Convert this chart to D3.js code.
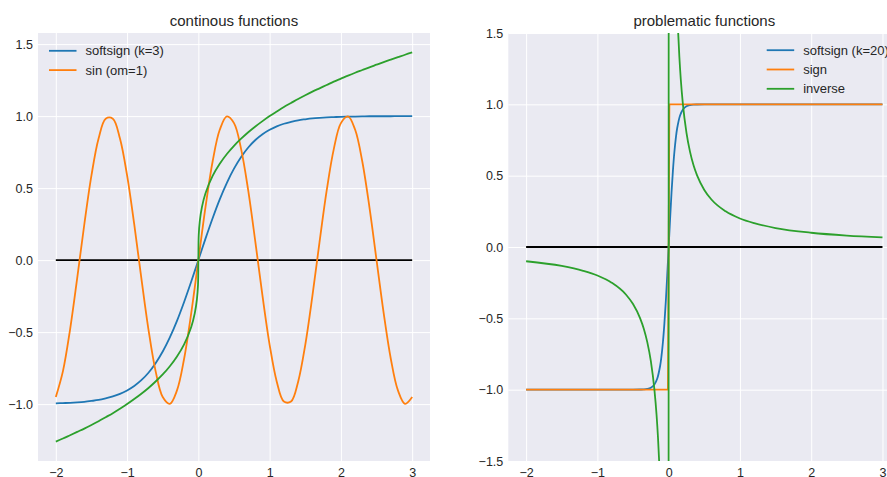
<!DOCTYPE html>
<html>
<head>
<meta charset="utf-8">
<script src="https://cdn.jsdelivr.net/npm/d3@7"></script>
<style>
  html, body { margin: 0; padding: 0; background: #ffffff; overflow: hidden; }
  svg { display: block; font-family: "Liberation Sans", Arial, sans-serif; }
</style>
</head>
<body>
<svg id="chart" width="887" height="477"></svg>
<script>
// ---- data: continuous functions (left panel) ----
const contX = [-2.0, -1.9, -1.8, -1.7, -1.6, -1.5, -1.4, -1.3, -1.2, -1.1, -1.0, -0.9, -0.8, -0.7, -0.6, -0.5, -0.4, -0.3, -0.2, -0.1,
  -0.05, -0.02, -0.005, 0, 0.005, 0.02, 0.05,
  0.1, 0.2, 0.3, 0.4, 0.5, 0.6, 0.7, 0.8, 0.9, 1.0, 1.1, 1.2, 1.3, 1.4, 1.5, 1.6, 1.7, 1.8, 1.9, 2.0,
  2.1, 2.2, 2.3, 2.4, 2.5, 2.6, 2.7, 2.8, 2.9, 3.0];
const softsign3 = [-0.995, -0.993, -0.991, -0.988, -0.984, -0.978, -0.971, -0.960, -0.947, -0.929, -0.905, -0.874, -0.834, -0.782, -0.716, -0.635, -0.537, -0.422, -0.291, -0.149,
  -0.075, -0.030, -0.0075, 0, 0.0075, 0.030, 0.075,
  0.149, 0.291, 0.422, 0.537, 0.635, 0.716, 0.782, 0.834, 0.874, 0.905, 0.929, 0.947, 0.960, 0.971, 0.978, 0.984, 0.988, 0.991, 0.993, 0.995,
  0.996, 0.997, 0.998, 0.999, 0.999, 0.999, 0.999, 1.0, 1.0, 1.0];
const sinOm1 = [-0.951, -0.771, -0.482, -0.125, 0.249, 0.588, 0.844, 0.982, 0.982, 0.844, 0.588, 0.249, -0.125, -0.482, -0.771, -0.951, -0.998, -0.905, -0.685, -0.368,
  -0.187, -0.075, -0.019, 0, 0.019, 0.075, 0.187,
  0.368, 0.685, 0.905, 0.998, 0.951, 0.771, 0.482, 0.125, -0.249, -0.588, -0.844, -0.982, -0.982, -0.844, -0.588, -0.249, 0.125, 0.482, 0.771, 0.951,
  0.998, 0.905, 0.685, 0.368, 0.0, -0.368, -0.685, -0.905, -0.998, -0.951];
const cubeRoot = [-1.260, -1.239, -1.216, -1.193, -1.170, -1.145, -1.119, -1.091, -1.063, -1.032, -1.0, -0.965, -0.928, -0.888, -0.843, -0.794, -0.737, -0.669, -0.585, -0.464,
  -0.368, -0.271, -0.171, 0, 0.171, 0.271, 0.368,
  0.464, 0.585, 0.669, 0.737, 0.794, 0.843, 0.888, 0.928, 0.965, 1.0, 1.032, 1.063, 1.091, 1.119, 1.145, 1.170, 1.193, 1.216, 1.239, 1.260,
  1.281, 1.301, 1.320, 1.339, 1.357, 1.375, 1.392, 1.409, 1.426, 1.442];

// ---- data: problematic functions (right panel) ----
const softsign20X = [-2, -1, -0.5, -0.4, -0.35, -0.3, -0.25, -0.2, -0.16, -0.12, -0.1, -0.08, -0.06, -0.04, -0.02, 0,
  0.02, 0.04, 0.06, 0.08, 0.1, 0.12, 0.16, 0.2, 0.25, 0.3, 0.35, 0.4, 0.5, 1, 2, 3];
const softsign20 = [-1, -1, -1, -0.999, -0.998, -0.995, -0.987, -0.964, -0.922, -0.834, -0.762, -0.664, -0.537, -0.380, -0.197, 0,
  0.197, 0.380, 0.537, 0.664, 0.762, 0.834, 0.922, 0.964, 0.987, 0.995, 0.998, 0.999, 1, 1, 1, 1];
const signX = [-2, -0.01, 0.01, 3];
const signY = [-1, -1, 1, 1];
const inverseX = [-2, -1.5, -1.2, -1, -0.8, -0.6, -0.5, -0.4, -0.35, -0.3, -0.25, -0.2, -0.17, -0.15, -0.13, -0.12, -0.1, -0.01,
  0.01, 0.1, 0.12, 0.13, 0.15, 0.17, 0.2, 0.25, 0.3, 0.35, 0.4, 0.5, 0.6, 0.8, 1, 1.2, 1.5, 2, 2.5, 3];
const inverseY = [-0.1, -0.133, -0.167, -0.2, -0.25, -0.333, -0.4, -0.5, -0.571, -0.667, -0.8, -1.0, -1.176, -1.333, -1.538, -1.667, -2.0, -20,
  20, 2.0, 1.667, 1.538, 1.333, 1.176, 1.0, 0.8, 0.667, 0.571, 0.5, 0.4, 0.333, 0.25, 0.2, 0.167, 0.133, 0.1, 0.08, 0.067];

// zero reference line
const zeroX = [-2, 3];
const zeroY = [0, 0];

// ---- labels and ticks ----
const titles = ["continous functions", "problematic functions"];
const leftLegend = ["softsign (k=3)", "sin (om=1)"];
const rightLegend = ["softsign (k=20)", "sign", "inverse"];
const xTicks = [-2, -1, 0, 1, 2, 3];
const leftYTicks = [-1.0, -0.5, 0.0, 0.5, 1.0, 1.5];
const rightYTicks = [-1.5, -1.0, -0.5, 0.0, 0.5, 1.0, 1.5];

const C = { blue: "#1f77b4", orange: "#ff7f0e", green: "#2ca02c", black: "#000000" };
const bg = "#eaeaf2", textColor = "#262626";

const svg = d3.select("#chart");
const axTop = 33, axBottom = 461, axW = 392;

function zip(xs, ys) { return xs.map((x, i) => [x, ys[i]]); }

function panel(opts) {
  const { left, xDomain, yDomain, yTicks, title, idx } = opts;
  const x = d3.scaleLinear().domain(xDomain).range([left, left + axW]);
  const y = d3.scaleLinear().domain(yDomain).range([axBottom, axTop]);
  const g = svg.append("g");

  g.append("rect").attr("x", left).attr("y", axTop).attr("width", axW).attr("height", axBottom - axTop).attr("fill", bg);

  // grid
  g.append("g").attr("transform", `translate(0,${axBottom})`)
    .call(d3.axisBottom(x).tickValues(xTicks).tickSize(-(axBottom - axTop)).tickFormat(""))
    .call(s => s.select(".domain").remove())
    .call(s => s.selectAll("line").attr("stroke", "#ffffff").attr("stroke-width", 1));
  g.append("g").attr("transform", `translate(${left},0)`)
    .call(d3.axisLeft(y).tickValues(yTicks).tickSize(-axW).tickFormat(""))
    .call(s => s.select(".domain").remove())
    .call(s => s.selectAll("line").attr("stroke", "#ffffff").attr("stroke-width", 1));

  // tick labels
  const xa = g.append("g").attr("transform", `translate(0,${axBottom})`)
    .call(d3.axisBottom(x).tickValues(xTicks).tickSize(0).tickPadding(0).tickFormat(d3.format("d")));
  xa.select(".domain").remove();
  xa.selectAll("text").attr("dy", null).attr("y", 16).attr("font-size", 12.5)
    .attr("font-family", "Liberation Sans, Arial, sans-serif").attr("fill", textColor);

  const ya = g.append("g").attr("transform", `translate(${left},0)`)
    .call(d3.axisLeft(y).tickValues(yTicks).tickSize(0).tickPadding(5).tickFormat(d3.format(".1f")));
  ya.select(".domain").remove();
  ya.selectAll("text").attr("font-size", 12.5)
    .attr("font-family", "Liberation Sans, Arial, sans-serif").attr("fill", textColor);

  // title
  g.append("text").attr("x", left + axW / 2).attr("y", 26).attr("text-anchor", "middle")
    .attr("font-size", 15).attr("fill", textColor).text(title);

  const clipId = "clip" + idx;
  svg.append("clipPath").attr("id", clipId).append("rect")
    .attr("x", left).attr("y", axTop).attr("width", axW).attr("height", axBottom - axTop);
  const plot = g.append("g").attr("clip-path", `url(#${clipId})`);
  return { x, y, g, plot };
}

function drawLine(p, pts, color, curve) {
  const line = d3.line().x(d => p.x(d[0])).y(d => p.y(d[1])).curve(curve);
  p.plot.append("path").datum(pts).attr("d", line)
    .attr("fill", "none").attr("stroke", color).attr("stroke-width", 1.8)
    .attr("stroke-linejoin", "round").attr("stroke-linecap", "butt");
}

function legend(p, items, lx, ly) {
  items.forEach((it, i) => {
    const yy = ly + i * 19.3;
    p.g.append("line").attr("x1", lx).attr("x2", lx + 27.5).attr("y1", yy).attr("y2", yy)
      .attr("stroke", it.color).attr("stroke-width", 1.8);
    p.g.append("text").attr("x", lx + 36.5).attr("y", yy + 4.6).attr("font-size", 13)
      .attr("fill", textColor).text(it.label);
  });
}

// left panel: domain padded 5% around the data like matplotlib autoscaling
const lyMin = d3.min([softsign3, sinOm1, cubeRoot].flat());
const lyMax = d3.max([softsign3, sinOm1, cubeRoot].flat());
const lPad = (lyMax - lyMin) * 0.05;
const pL = panel({ left: 38, xDomain: [-2.25, 3.25], yDomain: [lyMin - lPad, lyMax + lPad], yTicks: leftYTicks, title: titles[0], idx: 0 });
const smooth = d3.curveCatmullRom.alpha(0.5);
drawLine(pL, zip(zeroX, zeroY), C.black, d3.curveLinear);
drawLine(pL, zip(contX, softsign3), C.blue, smooth);
drawLine(pL, zip(contX, sinOm1), C.orange, smooth);
drawLine(pL, zip(contX, cubeRoot), C.green, smooth);
legend(pL, [{ label: leftLegend[0], color: C.blue }, { label: leftLegend[1], color: C.orange }], 49, 50.8);

// right panel
const pR = panel({ left: 508.3, xDomain: [-2.25, 3.25], yDomain: [-1.5, 1.5], yTicks: rightYTicks, title: titles[1], idx: 1 });
drawLine(pR, zip(zeroX, zeroY), C.black, d3.curveLinear);
drawLine(pR, zip(softsign20X, softsign20), C.blue, smooth);
drawLine(pR, zip(signX, signY), C.orange, d3.curveLinear);
drawLine(pR, zip(inverseX, inverseY), C.green, d3.curveMonotoneX);
legend(pR, [{ label: rightLegend[0], color: C.blue }, { label: rightLegend[1], color: C.orange }, { label: rightLegend[2], color: C.green }], 766.7, 50.2);
</script>
</body>
</html>
